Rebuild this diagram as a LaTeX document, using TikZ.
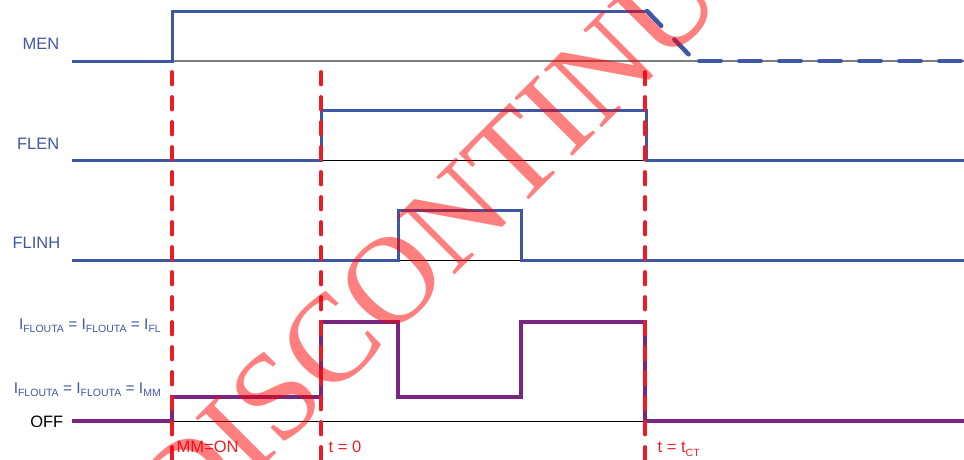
\documentclass[tikz,border=0pt]{standalone}
\usepackage{fontspec}
\setmainfont{Liberation Sans}
\newfontfamily\wmfont{Liberation Serif}
\definecolor{sigblue}{RGB}{62,86,166}
\definecolor{labblue}{RGB}{66,86,165}
\definecolor{curpurple}{RGB}{122,38,128}
\definecolor{mkred}{RGB}{237,28,36}
\definecolor{refgray}{RGB}{125,125,125}
\newcommand{\sbs}[1]{\raisebox{-0.22em}{\fontsize{10.5}{10.5}\selectfont #1}}
\begin{document}
\begin{tikzpicture}[x=1pt,y=-1pt,
  sig/.style={draw=sigblue,line width=3pt},
  sigdash/.style={draw=sigblue,line width=4.5pt,line cap=round},
  cur/.style={draw=curpurple,line width=3.2pt},
  refline/.style={draw=black,line width=1pt},
  refgrayline/.style={draw=refgray,line width=1.4pt},
  marker/.style={draw=mkred,line width=3.8pt,line cap=round,dash pattern=on 12.5pt off 12.5pt},
  lab/.style={inner sep=0pt,text=labblue,font=\fontsize{16.5}{16.5}\selectfont},
  redlab/.style={inner sep=0pt,text=mkred,font=\fontsize{16.5}{16.5}\selectfont,anchor=base west},
  curlab/.style={inner sep=0pt,text=labblue,font=\fontsize{15.5}{15.5}\selectfont,anchor=base east}
]
\useasboundingbox (0,0) rectangle (964,459);
% thin reference lines
\draw[refgrayline] (172,61) -- (964,61);
\draw[refline] (321,160) -- (646,160);
\draw[refline] (398,260) -- (521,260);
\draw[refline] (172,421) -- (645,421);
% MEN
\draw[sig] (72,61) -- (172,61) -- (172,11) -- (647,11);
\coordinate (menfall) at (647,11);
\coordinate (menknee) at (694,60);
\coordinate (menend) at (964,61);
\draw[sigdash,dash pattern=on 20.5pt off 19pt] (menfall) -- (menknee);
\draw[sigdash,dash pattern=on 21.5pt off 18.5pt] (699.25,61) -- (menend);
% FLEN
\draw[sig] (72,160) -- (321,160) -- (321,110) -- (646,110) -- (646,160) -- (964,160);
% FLINH
\draw[sig] (72,260) -- (398,260) -- (398,210) -- (521,210) -- (521,260) -- (964,260);
% current
\draw[cur] (72,421) -- (172,421) -- (172,397) -- (321,397) -- (321,322) -- (398,322) -- (398,397) -- (521,397) -- (521,322) -- (645,322) -- (645,421) -- (964,421);
% markers
\draw[marker] (172,72) -- (172,462);
\draw[marker] (321,72) -- (321,462);
\draw[marker] (645,72) -- (645,462);
% labels
\node[lab,anchor=base east] (men) at (59.5,49.5) {MEN};
\node[lab,anchor=base east] (flen) at (59.5,149) {FLEN};
\node[lab,anchor=base east] (flinh) at (60.5,248.5) {FLINH};
\node[lab,anchor=base east,text=black] (off) at (63.5,427.5) {OFF};
\node[curlab] (ifl) at (161,329) {I\sbs{FLOUTA} = I\sbs{FLOUTA} = I\sbs{FL}};
\node[curlab] (imm) at (161,393) {I\sbs{FLOUTA} = I\sbs{FLOUTA} = I\sbs{MM}};
\node[redlab] (mmon) at (176.5,452.5) {MM=ON};
\node[redlab] (tzero) at (328.5,452.5) {t = 0};
\node[redlab] (tct) at (657.5,452.5) {t = t\sbs{CT}};
% watermark
\begin{scope}
\clip (0,0) rectangle (964,459);
\node[inner sep=0pt,rotate=45,text=red,text opacity=0.5,font=\wmfont\fontsize{125}{125}\selectfont] (wm) at (487,185) {DISCONTINUED};
\end{scope}
\end{tikzpicture}
\end{document}
